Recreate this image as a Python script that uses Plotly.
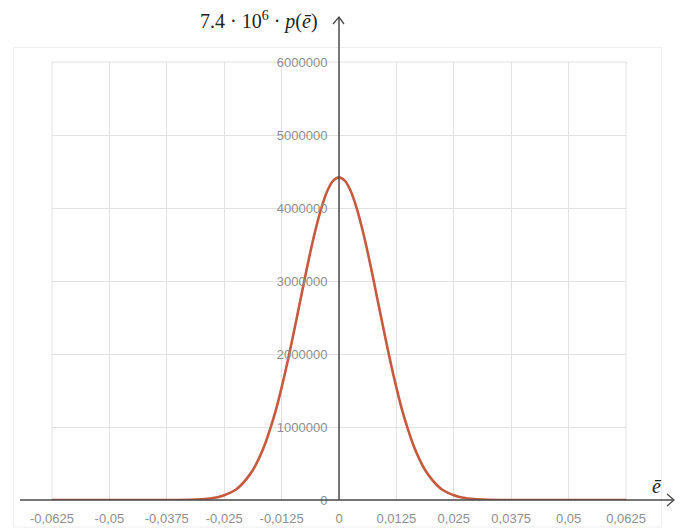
import plotly.graph_objects as go

# ---- data ----
e_vals = [-0.0625, -0.06, -0.0575, -0.055, -0.0525, -0.05, -0.0475, -0.045, -0.0425, -0.04,
          -0.0375, -0.035, -0.0325, -0.03, -0.02875, -0.0275, -0.02625, -0.025, -0.02375,
          -0.0225, -0.02125, -0.02, -0.01875, -0.0175, -0.01625, -0.015, -0.01375,
          -0.0125, -0.01125, -0.01, -0.00875, -0.0075, -0.00625, -0.005, -0.00375,
          -0.0025, -0.00125, 0.0, 0.00125, 0.0025, 0.00375, 0.005, 0.00625, 0.0075,
          0.00875, 0.01, 0.01125, 0.0125, 0.01375, 0.015, 0.01625, 0.0175, 0.01875,
          0.02, 0.02125, 0.0225, 0.02375, 0.025, 0.02625, 0.0275, 0.02875, 0.03,
          0.0325, 0.035, 0.0375, 0.04, 0.0425, 0.045, 0.0475, 0.05, 0.0525, 0.055,
          0.0575, 0.06, 0.0625]
p_vals = [0, 0, 0, 0, 0, 0, 0, 0, 0, 0,
          0, 1000, 3500, 10000, 16500, 27000, 42000, 65000, 98000,
          140000, 209000, 300000, 411000, 560000, 742000, 970000, 1231000,
          1540000, 1879000, 2250000, 2634000, 3020000, 3394000, 3730000, 4019000,
          4240000, 4374000, 4420000, 4374000, 4240000, 4019000, 3730000, 3394000, 3020000,
          2634000, 2250000, 1879000, 1540000, 1231000, 970000, 742000, 560000, 411000,
          300000, 209000, 140000, 98000, 65000, 42000, 27000, 16500, 10000,
          3500, 1000, 0, 0, 0, 0, 0, 0, 0, 0,
          0, 0, 0]

x_tick_vals = [-0.0625, -0.05, -0.0375, -0.025, -0.0125, 0, 0.0125, 0.025, 0.0375, 0.05, 0.0625]
x_tick_text = ["-0,0625", "-0,05", "-0,0375", "-0,025", "-0,0125", "0",
               "0,0125", "0,025", "0,0375", "0,05", "0,0625"]
y_tick_vals = [0, 1000000, 2000000, 3000000, 4000000, 5000000, 6000000]
y_tick_text = ["0", "1000000", "2000000", "3000000", "4000000", "5000000", "6000000"]

# ---- layout geometry (pixels) ----
W, H = 682, 528
L, R, T, B = 52, 56, 62, 28
PW, PH = W - L - R, H - T - B


def px(x):
    return (x - L) / PW


def py(y):
    return (H - B - y) / PH


tick_font = dict(family="Liberation Sans, Arial, sans-serif", size=13, color="#8f8f8f")
grid = "#e2e2e2"
axis_col = "#4a4a4a"

fig = go.Figure()
fig.add_trace(go.Scatter(
    x=e_vals, y=p_vals, mode="lines",
    line=dict(color="#c65a3e", width=2.6, shape="spline", smoothing=0.8),
    hoverinfo="skip", showlegend=False,
))

fig.update_layout(
    width=W, height=H,
    margin=dict(l=L, r=R, t=T, b=B, autoexpand=False),
    paper_bgcolor="white", plot_bgcolor="white",
    showlegend=False,
    xaxis=dict(
        range=[-0.0625, 0.0625], tickvals=x_tick_vals, ticktext=x_tick_text,
        showgrid=True, gridcolor=grid, gridwidth=1, zeroline=False, showline=False,
        ticks="outside", ticklen=6, tickcolor="rgba(0,0,0,0)",
        tickfont=tick_font, fixedrange=True,
    ),
    yaxis=dict(
        range=[0, 6000000], tickvals=y_tick_vals, ticktext=y_tick_text,
        showgrid=True, gridcolor=grid, gridwidth=1, zeroline=False, showline=False,
        anchor="free", position=0.5,
        ticks="outside", ticklen=9, tickcolor="rgba(0,0,0,0)",
        tickfont=tick_font, fixedrange=True,
    ),
)

shapes = []
# faint outer frame
shapes.append(dict(type="rect", xref="paper", yref="paper",
                   x0=px(13.5), x1=px(661.5), y0=py(527), y1=py(47.5),
                   line=dict(color="#eeeeee", width=1), layer="below"))
# grid border
shapes.append(dict(type="rect", xref="paper", yref="paper",
                   x0=0, x1=1, y0=0, y1=1,
                   line=dict(color=grid, width=1), layer="below"))
# x axis with arrow
shapes.append(dict(type="line", xref="paper", yref="paper",
                   x0=px(20), x1=px(673), y0=py(500), y1=py(500),
                   line=dict(color=axis_col, width=1.5)))
shapes.append(dict(type="path", xref="paper", yref="paper",
                   path=f"M {px(667)} {py(494)} L {px(674)} {py(500)} L {px(667)} {py(506)}",
                   line=dict(color=axis_col, width=1.3)))
# y axis with arrow
shapes.append(dict(type="line", xref="paper", yref="paper",
                   x0=0.5, x1=0.5, y0=py(500), y1=py(18),
                   line=dict(color=axis_col, width=1.5)))
shapes.append(dict(type="path", xref="paper", yref="paper",
                   path=f"M {px(333)} {py(24)} L {0.5} {py(17)} L {px(344)} {py(24)}",
                   line=dict(color=axis_col, width=1.3)))
fig.update_layout(shapes=shapes)

label_font = dict(family="Liberation Serif, DejaVu Serif, serif", size=20, color="#222222")
fig.add_annotation(xref="paper", yref="paper", x=px(198), y=py(21),
                   xanchor="left", yanchor="middle", showarrow=False,
                   text="7.4 · 10<sup>6</sup> · <i>p</i>(<i>ē</i>)", font=label_font)
fig.add_annotation(xref="paper", yref="paper", x=px(657), y=py(486),
                   xanchor="center", yanchor="middle", showarrow=False,
                   text="<i>ē</i>", font=label_font)

fig.write_html("out.html", config={"displayModeBar": False},
               post_script="document.body.style.margin='0';")
